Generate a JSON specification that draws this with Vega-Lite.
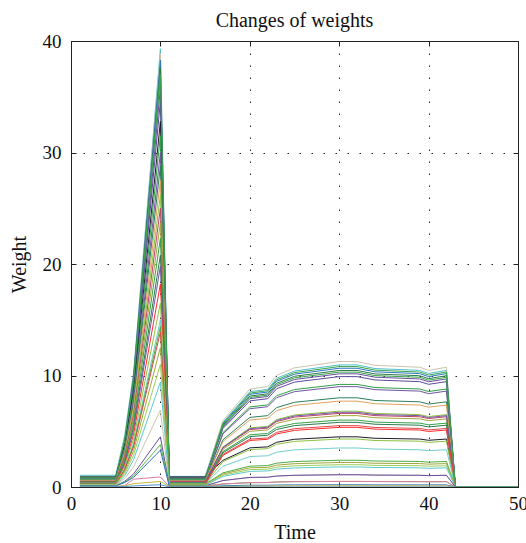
{
"$schema": "https://vega.github.io/schema/vega-lite/v6.json",
"width": 447, "height": 446,
"autosize": {"type": "none"},
"padding": {"left": 71, "top": 41, "right": 8, "bottom": 56},
"background": "white",
"title": {"text": "Changes of weights", "font": "Liberation Serif", "fontSize": 20, "fontWeight": "normal", "color": "#111", "baseline": "alphabetic", "offset": 12, "dy": 27},
"config": {
  "view": {"stroke": "#222", "strokeWidth": 1},
  "axis": {"domain": false, "tickSize": -5, "tickColor": "#222", "tickWidth": 1, "labelFont": "Liberation Serif", "labelFontSize": 19, "labelColor": "#111", "labelFlush": false, "labelOverlap": false, "labelBound": false, "titleFont": "Liberation Serif", "titleFontSize": 20, "titleFontWeight": "normal", "titleColor": "#111", "gridColor": "#222", "gridDash": [1.5, 10.5], "gridWidth": 1, "gridOpacity": 1}
},
"datasets": {"w": [
{"s":1,"t":1,"w":1.05},{"s":1,"t":5,"w":1.05},{"s":1,"t":6,"w":4.59},{"s":1,"t":7,"w":10.22},{"s":1,"t":10,"w":39.3},{"s":1,"t":11,"w":0.95},{"s":1,"t":15,"w":0.95},{"s":1,"t":17,"w":5.8},{"s":1,"t":20,"w":8.54},{"s":1,"t":22,"w":8.76},{"s":1,"t":23,"w":9.75},{"s":1,"t":25,"w":10.4},{"s":1,"t":30,"w":10.95},{"s":1,"t":32,"w":10.95},{"s":1,"t":34,"w":10.62},{"s":1,"t":39,"w":10.46},{"s":1,"t":40,"w":10.18},{"s":1,"t":42,"w":10.46},{"s":1,"t":43,"w":0},{"s":1,"t":50,"w":0},
{"s":2,"t":1,"w":0.8},{"s":2,"t":5,"w":0.8},{"s":2,"t":6,"w":4.3},{"s":2,"t":7,"w":10.11},{"s":2,"t":10,"w":38.9},{"s":2,"t":11,"w":0.85},{"s":2,"t":15,"w":0.85},{"s":2,"t":17,"w":5.96},{"s":2,"t":20,"w":8.78},{"s":2,"t":22,"w":9.0},{"s":2,"t":23,"w":10.01},{"s":2,"t":25,"w":10.69},{"s":2,"t":30,"w":11.25},{"s":2,"t":32,"w":11.25},{"s":2,"t":34,"w":10.91},{"s":2,"t":39,"w":10.74},{"s":2,"t":40,"w":10.46},{"s":2,"t":42,"w":10.74},{"s":2,"t":43,"w":0},{"s":2,"t":50,"w":0},
{"s":3,"t":1,"w":0.7},{"s":3,"t":5,"w":0.7},{"s":3,"t":6,"w":4.15},{"s":3,"t":7,"w":9.96},{"s":3,"t":10,"w":38.3},{"s":3,"t":11,"w":0.7},{"s":3,"t":15,"w":0.7},{"s":3,"t":17,"w":5.64},{"s":3,"t":20,"w":8.31},{"s":3,"t":22,"w":8.52},{"s":3,"t":23,"w":9.48},{"s":3,"t":25,"w":10.12},{"s":3,"t":30,"w":10.65},{"s":3,"t":32,"w":10.65},{"s":3,"t":34,"w":10.33},{"s":3,"t":39,"w":10.17},{"s":3,"t":40,"w":9.9},{"s":3,"t":42,"w":10.17},{"s":3,"t":43,"w":0},{"s":3,"t":50,"w":0},
{"s":4,"t":1,"w":0.6},{"s":4,"t":5,"w":0.6},{"s":4,"t":6,"w":3.98},{"s":4,"t":7,"w":9.78},{"s":4,"t":10,"w":37.6},{"s":4,"t":11,"w":0.75},{"s":4,"t":15,"w":0.75},{"s":4,"t":17,"w":5.54},{"s":4,"t":20,"w":8.15},{"s":4,"t":22,"w":8.36},{"s":4,"t":23,"w":9.3},{"s":4,"t":25,"w":9.93},{"s":4,"t":30,"w":10.45},{"s":4,"t":32,"w":10.45},{"s":4,"t":34,"w":10.14},{"s":4,"t":39,"w":9.98},{"s":4,"t":40,"w":9.72},{"s":4,"t":42,"w":9.98},{"s":4,"t":43,"w":0},{"s":4,"t":50,"w":0},
{"s":5,"t":1,"w":0.9},{"s":5,"t":5,"w":0.9},{"s":5,"t":6,"w":4.21},{"s":5,"t":7,"w":9.57},{"s":5,"t":10,"w":36.8},{"s":5,"t":11,"w":0.65},{"s":5,"t":15,"w":0.65},{"s":5,"t":17,"w":5.72},{"s":5,"t":20,"w":8.42},{"s":5,"t":22,"w":8.64},{"s":5,"t":23,"w":9.61},{"s":5,"t":25,"w":10.26},{"s":5,"t":30,"w":10.8},{"s":5,"t":32,"w":10.8},{"s":5,"t":34,"w":10.48},{"s":5,"t":39,"w":10.31},{"s":5,"t":40,"w":10.04},{"s":5,"t":42,"w":10.31},{"s":5,"t":43,"w":0},{"s":5,"t":50,"w":0},
{"s":6,"t":1,"w":0.5},{"s":6,"t":5,"w":0.5},{"s":6,"t":6,"w":3.72},{"s":6,"t":7,"w":9.31},{"s":6,"t":10,"w":35.8},{"s":6,"t":11,"w":0.6},{"s":6,"t":15,"w":0.6},{"s":6,"t":17,"w":5.38},{"s":6,"t":20,"w":7.92},{"s":6,"t":22,"w":8.12},{"s":6,"t":23,"w":9.03},{"s":6,"t":25,"w":9.64},{"s":6,"t":30,"w":10.15},{"s":6,"t":32,"w":10.15},{"s":6,"t":34,"w":9.85},{"s":6,"t":39,"w":9.69},{"s":6,"t":40,"w":9.44},{"s":6,"t":42,"w":9.69},{"s":6,"t":43,"w":0},{"s":6,"t":50,"w":0},
{"s":7,"t":1,"w":0.75},{"s":7,"t":5,"w":0.75},{"s":7,"t":6,"w":3.86},{"s":7,"t":7,"w":9.0},{"s":7,"t":10,"w":34.6},{"s":7,"t":11,"w":0.8},{"s":7,"t":15,"w":0.8},{"s":7,"t":17,"w":5.25},{"s":7,"t":20,"w":7.72},{"s":7,"t":22,"w":7.92},{"s":7,"t":23,"w":8.81},{"s":7,"t":25,"w":9.41},{"s":7,"t":30,"w":9.9},{"s":7,"t":32,"w":9.9},{"s":7,"t":34,"w":9.6},{"s":7,"t":39,"w":9.45},{"s":7,"t":40,"w":9.21},{"s":7,"t":42,"w":9.45},{"s":7,"t":43,"w":0},{"s":7,"t":50,"w":0},
{"s":8,"t":1,"w":0.9},{"s":8,"t":5,"w":0.9},{"s":8,"t":6,"w":3.85},{"s":8,"t":7,"w":8.53},{"s":8,"t":10,"w":32.8},{"s":8,"t":11,"w":0.9},{"s":8,"t":15,"w":0.9},{"s":8,"t":17,"w":2.39},{"s":8,"t":20,"w":3.51},{"s":8,"t":22,"w":3.6},{"s":8,"t":23,"w":4.01},{"s":8,"t":25,"w":4.28},{"s":8,"t":30,"w":4.5},{"s":8,"t":32,"w":4.5},{"s":8,"t":34,"w":4.37},{"s":8,"t":39,"w":4.3},{"s":8,"t":40,"w":4.19},{"s":8,"t":42,"w":4.3},{"s":8,"t":43,"w":0},{"s":8,"t":50,"w":0},
{"s":9,"t":1,"w":0.65},{"s":9,"t":5,"w":0.65},{"s":9,"t":6,"w":3.49},{"s":9,"t":7,"w":8.19},{"s":9,"t":10,"w":31.5},{"s":9,"t":11,"w":0.55},{"s":9,"t":15,"w":0.55},{"s":9,"t":17,"w":4.88},{"s":9,"t":20,"w":7.18},{"s":9,"t":22,"w":7.36},{"s":9,"t":23,"w":8.19},{"s":9,"t":25,"w":8.74},{"s":9,"t":30,"w":9.2},{"s":9,"t":32,"w":9.2},{"s":9,"t":34,"w":8.92},{"s":9,"t":39,"w":8.79},{"s":9,"t":40,"w":8.56},{"s":9,"t":42,"w":8.79},{"s":9,"t":43,"w":0},{"s":9,"t":50,"w":0},
{"s":10,"t":1,"w":0.55},{"s":10,"t":5,"w":0.55},{"s":10,"t":6,"w":3.25},{"s":10,"t":7,"w":7.8},{"s":10,"t":10,"w":30},{"s":10,"t":11,"w":0.5},{"s":10,"t":15,"w":0.5},{"s":10,"t":17,"w":4.77},{"s":10,"t":20,"w":7.02},{"s":10,"t":22,"w":7.2},{"s":10,"t":23,"w":8.01},{"s":10,"t":25,"w":8.55},{"s":10,"t":30,"w":9},{"s":10,"t":32,"w":9},{"s":10,"t":34,"w":8.73},{"s":10,"t":39,"w":8.6},{"s":10,"t":40,"w":8.37},{"s":10,"t":42,"w":8.6},{"s":10,"t":43,"w":0},{"s":10,"t":50,"w":0},
{"s":11,"t":1,"w":0.45},{"s":11,"t":5,"w":0.45},{"s":11,"t":6,"w":3.04},{"s":11,"t":7,"w":7.49},{"s":11,"t":10,"w":28.8},{"s":11,"t":11,"w":0.45},{"s":11,"t":15,"w":0.45},{"s":11,"t":17,"w":4.24},{"s":11,"t":20,"w":6.24},{"s":11,"t":22,"w":6.4},{"s":11,"t":23,"w":7.12},{"s":11,"t":25,"w":7.6},{"s":11,"t":30,"w":8},{"s":11,"t":32,"w":8},{"s":11,"t":34,"w":7.76},{"s":11,"t":39,"w":7.64},{"s":11,"t":40,"w":7.44},{"s":11,"t":42,"w":7.64},{"s":11,"t":43,"w":0},{"s":11,"t":50,"w":0},
{"s":12,"t":1,"w":0.6},{"s":12,"t":5,"w":0.6},{"s":12,"t":6,"w":3.08},{"s":12,"t":7,"w":7.15},{"s":12,"t":10,"w":27.5},{"s":12,"t":11,"w":0.55},{"s":12,"t":15,"w":0.55},{"s":12,"t":17,"w":4.08},{"s":12,"t":20,"w":6.01},{"s":12,"t":22,"w":6.16},{"s":12,"t":23,"w":6.85},{"s":12,"t":25,"w":7.32},{"s":12,"t":30,"w":7.7},{"s":12,"t":32,"w":7.7},{"s":12,"t":34,"w":7.47},{"s":12,"t":39,"w":7.35},{"s":12,"t":40,"w":7.16},{"s":12,"t":42,"w":7.35},{"s":12,"t":43,"w":0},{"s":12,"t":50,"w":0},
{"s":13,"t":1,"w":0.4},{"s":13,"t":5,"w":0.4},{"s":13,"t":6,"w":2.76},{"s":13,"t":7,"w":6.81},{"s":13,"t":10,"w":26.2},{"s":13,"t":11,"w":0.4},{"s":13,"t":15,"w":0.4},{"s":13,"t":17,"w":3.6},{"s":13,"t":20,"w":5.3},{"s":13,"t":22,"w":5.44},{"s":13,"t":23,"w":6.05},{"s":13,"t":25,"w":6.46},{"s":13,"t":30,"w":6.8},{"s":13,"t":32,"w":6.8},{"s":13,"t":34,"w":6.6},{"s":13,"t":39,"w":6.49},{"s":13,"t":40,"w":6.32},{"s":13,"t":42,"w":6.49},{"s":13,"t":43,"w":0},{"s":13,"t":50,"w":0},
{"s":14,"t":1,"w":0.5},{"s":14,"t":5,"w":0.5},{"s":14,"t":6,"w":2.75},{"s":14,"t":7,"w":6.5},{"s":14,"t":10,"w":25},{"s":14,"t":11,"w":0.5},{"s":14,"t":15,"w":0.5},{"s":14,"t":17,"w":3.5},{"s":14,"t":20,"w":5.15},{"s":14,"t":22,"w":5.28},{"s":14,"t":23,"w":5.87},{"s":14,"t":25,"w":6.27},{"s":14,"t":30,"w":6.6},{"s":14,"t":32,"w":6.6},{"s":14,"t":34,"w":6.4},{"s":14,"t":39,"w":6.3},{"s":14,"t":40,"w":6.14},{"s":14,"t":42,"w":6.3},{"s":14,"t":43,"w":0},{"s":14,"t":50,"w":0},
{"s":15,"t":1,"w":0.35},{"s":15,"t":5,"w":0.35},{"s":15,"t":6,"w":2.48},{"s":15,"t":7,"w":6.16},{"s":15,"t":10,"w":23.7},{"s":15,"t":11,"w":0.35},{"s":15,"t":15,"w":0.35},{"s":15,"t":17,"w":3.39},{"s":15,"t":20,"w":4.99},{"s":15,"t":22,"w":5.12},{"s":15,"t":23,"w":5.7},{"s":15,"t":25,"w":6.08},{"s":15,"t":30,"w":6.4},{"s":15,"t":32,"w":6.4},{"s":15,"t":34,"w":6.21},{"s":15,"t":39,"w":6.11},{"s":15,"t":40,"w":5.95},{"s":15,"t":42,"w":6.11},{"s":15,"t":43,"w":0},{"s":15,"t":50,"w":0},
{"s":16,"t":1,"w":0.45},{"s":16,"t":5,"w":0.45},{"s":16,"t":6,"w":2.46},{"s":16,"t":7,"w":5.8},{"s":16,"t":10,"w":22.3},{"s":16,"t":11,"w":0.4},{"s":16,"t":15,"w":0.4},{"s":16,"t":17,"w":3.18},{"s":16,"t":20,"w":4.68},{"s":16,"t":22,"w":4.8},{"s":16,"t":23,"w":5.34},{"s":16,"t":25,"w":5.7},{"s":16,"t":30,"w":6},{"s":16,"t":32,"w":6},{"s":16,"t":34,"w":5.82},{"s":16,"t":39,"w":5.73},{"s":16,"t":40,"w":5.58},{"s":16,"t":42,"w":5.73},{"s":16,"t":43,"w":0},{"s":16,"t":50,"w":0},
{"s":17,"t":1,"w":0.3},{"s":17,"t":5,"w":0.3},{"s":17,"t":6,"w":2.17},{"s":17,"t":7,"w":5.41},{"s":17,"t":10,"w":20.8},{"s":17,"t":11,"w":0.3},{"s":17,"t":15,"w":0.3},{"s":17,"t":17,"w":3.07},{"s":17,"t":20,"w":4.52},{"s":17,"t":22,"w":4.64},{"s":17,"t":23,"w":5.16},{"s":17,"t":25,"w":5.51},{"s":17,"t":30,"w":5.8},{"s":17,"t":32,"w":5.8},{"s":17,"t":34,"w":5.63},{"s":17,"t":39,"w":5.54},{"s":17,"t":40,"w":5.39},{"s":17,"t":42,"w":5.54},{"s":17,"t":43,"w":0},{"s":17,"t":50,"w":0},
{"s":18,"t":1,"w":0.4},{"s":18,"t":5,"w":0.4},{"s":18,"t":6,"w":2.18},{"s":18,"t":7,"w":5.15},{"s":18,"t":10,"w":19.8},{"s":18,"t":11,"w":0.35},{"s":18,"t":15,"w":0.35},{"s":18,"t":17,"w":3.55},{"s":18,"t":20,"w":5.23},{"s":18,"t":22,"w":5.36},{"s":18,"t":23,"w":5.96},{"s":18,"t":25,"w":6.37},{"s":18,"t":30,"w":6.7},{"s":18,"t":32,"w":6.7},{"s":18,"t":34,"w":6.5},{"s":18,"t":39,"w":6.4},{"s":18,"t":40,"w":6.23},{"s":18,"t":42,"w":6.4},{"s":18,"t":43,"w":0},{"s":18,"t":50,"w":0},
{"s":19,"t":1,"w":0.3},{"s":19,"t":5,"w":0.3},{"s":19,"t":6,"w":1.94},{"s":19,"t":7,"w":4.73},{"s":19,"t":10,"w":18.2},{"s":19,"t":11,"w":0.3},{"s":19,"t":15,"w":0.3},{"s":19,"t":17,"w":2.84},{"s":19,"t":20,"w":4.17},{"s":19,"t":22,"w":4.28},{"s":19,"t":23,"w":4.76},{"s":19,"t":25,"w":5.08},{"s":19,"t":30,"w":5.35},{"s":19,"t":32,"w":5.35},{"s":19,"t":34,"w":5.19},{"s":19,"t":39,"w":5.11},{"s":19,"t":40,"w":4.98},{"s":19,"t":42,"w":5.11},{"s":19,"t":43,"w":0},{"s":19,"t":50,"w":0},
{"s":20,"t":1,"w":0.35},{"s":20,"t":5,"w":0.35},{"s":20,"t":6,"w":1.84},{"s":20,"t":7,"w":4.29},{"s":20,"t":10,"w":16.5},{"s":20,"t":11,"w":0.3},{"s":20,"t":15,"w":0.3},{"s":20,"t":17,"w":2.28},{"s":20,"t":20,"w":3.35},{"s":20,"t":22,"w":3.44},{"s":20,"t":23,"w":3.83},{"s":20,"t":25,"w":4.09},{"s":20,"t":30,"w":4.3},{"s":20,"t":32,"w":4.3},{"s":20,"t":34,"w":4.17},{"s":20,"t":39,"w":4.11},{"s":20,"t":40,"w":4.0},{"s":20,"t":42,"w":4.11},{"s":20,"t":43,"w":0},{"s":20,"t":50,"w":0},
{"s":21,"t":1,"w":0.25},{"s":21,"t":5,"w":0.25},{"s":21,"t":6,"w":1.6},{"s":21,"t":7,"w":3.9},{"s":21,"t":10,"w":15},{"s":21,"t":11,"w":0.25},{"s":21,"t":15,"w":0.25},{"s":21,"t":17,"w":1.86},{"s":21,"t":20,"w":2.73},{"s":21,"t":22,"w":2.8},{"s":21,"t":23,"w":3.12},{"s":21,"t":25,"w":3.33},{"s":21,"t":30,"w":3.5},{"s":21,"t":32,"w":3.5},{"s":21,"t":34,"w":3.4},{"s":21,"t":39,"w":3.34},{"s":21,"t":40,"w":3.26},{"s":21,"t":42,"w":3.34},{"s":21,"t":43,"w":0},{"s":21,"t":50,"w":0},
{"s":22,"t":1,"w":0.3},{"s":22,"t":5,"w":0.3},{"s":22,"t":6,"w":1.6},{"s":22,"t":7,"w":3.74},{"s":22,"t":10,"w":14.4},{"s":22,"t":11,"w":0.25},{"s":22,"t":15,"w":0.25},{"s":22,"t":17,"w":1.27},{"s":22,"t":20,"w":1.87},{"s":22,"t":22,"w":1.92},{"s":22,"t":23,"w":2.14},{"s":22,"t":25,"w":2.28},{"s":22,"t":30,"w":2.4},{"s":22,"t":32,"w":2.4},{"s":22,"t":34,"w":2.33},{"s":22,"t":39,"w":2.29},{"s":22,"t":40,"w":2.23},{"s":22,"t":42,"w":2.29},{"s":22,"t":43,"w":0},{"s":22,"t":50,"w":0},
{"s":23,"t":1,"w":0.25},{"s":23,"t":5,"w":0.25},{"s":23,"t":6,"w":1.5},{"s":23,"t":7,"w":3.61},{"s":23,"t":10,"w":13.9},{"s":23,"t":11,"w":0.2},{"s":23,"t":15,"w":0.2},{"s":23,"t":17,"w":2.92},{"s":23,"t":20,"w":4.29},{"s":23,"t":22,"w":4.4},{"s":23,"t":23,"w":4.9},{"s":23,"t":25,"w":5.23},{"s":23,"t":30,"w":5.5},{"s":23,"t":32,"w":5.5},{"s":23,"t":34,"w":5.34},{"s":23,"t":39,"w":5.25},{"s":23,"t":40,"w":5.12},{"s":23,"t":42,"w":5.25},{"s":23,"t":43,"w":0},{"s":23,"t":50,"w":0},
{"s":24,"t":1,"w":0.2},{"s":24,"t":5,"w":0.2},{"s":24,"t":6,"w":1.33},{"s":24,"t":7,"w":3.25},{"s":24,"t":10,"w":12.5},{"s":24,"t":11,"w":0.2},{"s":24,"t":15,"w":0.2},{"s":24,"t":17,"w":1.17},{"s":24,"t":20,"w":1.72},{"s":24,"t":22,"w":1.76},{"s":24,"t":23,"w":1.96},{"s":24,"t":25,"w":2.09},{"s":24,"t":30,"w":2.2},{"s":24,"t":32,"w":2.2},{"s":24,"t":34,"w":2.13},{"s":24,"t":39,"w":2.1},{"s":24,"t":40,"w":2.05},{"s":24,"t":42,"w":2.1},{"s":24,"t":43,"w":0},{"s":24,"t":50,"w":0},
{"s":25,"t":1,"w":0.2},{"s":25,"t":5,"w":0.2},{"s":25,"t":6,"w":1.19},{"s":25,"t":7,"w":2.86},{"s":25,"t":10,"w":11},{"s":25,"t":11,"w":0.15},{"s":25,"t":15,"w":0.15},{"s":25,"t":17,"w":1.06},{"s":25,"t":20,"w":1.56},{"s":25,"t":22,"w":1.6},{"s":25,"t":23,"w":1.78},{"s":25,"t":25,"w":1.9},{"s":25,"t":30,"w":2},{"s":25,"t":32,"w":2},{"s":25,"t":34,"w":1.94},{"s":25,"t":39,"w":1.91},{"s":25,"t":40,"w":1.86},{"s":25,"t":42,"w":1.91},{"s":25,"t":43,"w":0},{"s":25,"t":50,"w":0},
{"s":26,"t":1,"w":0.15},{"s":26,"t":5,"w":0.15},{"s":26,"t":6,"w":1.0},{"s":26,"t":7,"w":2.44},{"s":26,"t":10,"w":9.4},{"s":26,"t":11,"w":0.15},{"s":26,"t":15,"w":0.15},{"s":26,"t":17,"w":0.95},{"s":26,"t":20,"w":1.4},{"s":26,"t":22,"w":1.44},{"s":26,"t":23,"w":1.6},{"s":26,"t":25,"w":1.71},{"s":26,"t":30,"w":1.8},{"s":26,"t":32,"w":1.8},{"s":26,"t":34,"w":1.75},{"s":26,"t":39,"w":1.72},{"s":26,"t":40,"w":1.67},{"s":26,"t":42,"w":1.72},{"s":26,"t":43,"w":0},{"s":26,"t":50,"w":0},
{"s":27,"t":1,"w":0.15},{"s":27,"t":5,"w":0.15},{"s":27,"t":6,"w":0.77},{"s":27,"t":7,"w":1.79},{"s":27,"t":10,"w":6.9},{"s":27,"t":11,"w":0.1},{"s":27,"t":15,"w":0.1},{"s":27,"t":17,"w":0.58},{"s":27,"t":20,"w":0.86},{"s":27,"t":22,"w":0.88},{"s":27,"t":23,"w":0.98},{"s":27,"t":25,"w":1.05},{"s":27,"t":30,"w":1.1},{"s":27,"t":32,"w":1.1},{"s":27,"t":34,"w":1.07},{"s":27,"t":39,"w":1.05},{"s":27,"t":40,"w":1.02},{"s":27,"t":42,"w":1.05},{"s":27,"t":43,"w":0},{"s":27,"t":50,"w":0},
{"s":28,"t":1,"w":0.1},{"s":28,"t":5,"w":0.1},{"s":28,"t":6,"w":0.51},{"s":28,"t":7,"w":1.17},{"s":28,"t":10,"w":4.5},{"s":28,"t":11,"w":0.1},{"s":28,"t":15,"w":0.1},{"s":28,"t":17,"w":0.58},{"s":28,"t":20,"w":0.86},{"s":28,"t":22,"w":0.88},{"s":28,"t":23,"w":0.98},{"s":28,"t":25,"w":1.05},{"s":28,"t":30,"w":1.1},{"s":28,"t":32,"w":1.1},{"s":28,"t":34,"w":1.07},{"s":28,"t":39,"w":1.05},{"s":28,"t":40,"w":1.02},{"s":28,"t":42,"w":1.05},{"s":28,"t":43,"w":0},{"s":28,"t":50,"w":0},
{"s":29,"t":1,"w":0.1},{"s":29,"t":5,"w":0.1},{"s":29,"t":6,"w":0.44},{"s":29,"t":7,"w":0.99},{"s":29,"t":10,"w":3.8},{"s":29,"t":11,"w":0.1},{"s":29,"t":15,"w":0.1},{"s":29,"t":17,"w":0.27},{"s":29,"t":20,"w":0.39},{"s":29,"t":22,"w":0.4},{"s":29,"t":23,"w":0.45},{"s":29,"t":25,"w":0.48},{"s":29,"t":30,"w":0.5},{"s":29,"t":32,"w":0.5},{"s":29,"t":34,"w":0.49},{"s":29,"t":39,"w":0.48},{"s":29,"t":40,"w":0.47},{"s":29,"t":42,"w":0.48},{"s":29,"t":43,"w":0},{"s":29,"t":50,"w":0},
{"s":30,"t":1,"w":0.1},{"s":30,"t":5,"w":0.1},{"s":30,"t":6,"w":0.4},{"s":30,"t":7,"w":0.86},{"s":30,"t":10,"w":3.3},{"s":30,"t":11,"w":0.05},{"s":30,"t":15,"w":0.05},{"s":30,"t":17,"w":0.11},{"s":30,"t":20,"w":0.16},{"s":30,"t":22,"w":0.16},{"s":30,"t":23,"w":0.18},{"s":30,"t":25,"w":0.19},{"s":30,"t":30,"w":0.2},{"s":30,"t":32,"w":0.2},{"s":30,"t":34,"w":0.19},{"s":30,"t":39,"w":0.19},{"s":30,"t":40,"w":0.19},{"s":30,"t":42,"w":0.19},{"s":30,"t":43,"w":0},{"s":30,"t":50,"w":0},
{"s":31,"t":1,"w":0.05},{"s":31,"t":5,"w":0.05},{"s":31,"t":6,"w":0.13},{"s":31,"t":7,"w":0.7},{"s":31,"t":10,"w":0.9},{"s":31,"t":11,"w":0.05},{"s":31,"t":15,"w":0.05},{"s":31,"t":17,"w":0.27},{"s":31,"t":20,"w":0.39},{"s":31,"t":22,"w":0.4},{"s":31,"t":23,"w":0.45},{"s":31,"t":25,"w":0.48},{"s":31,"t":30,"w":0.5},{"s":31,"t":32,"w":0.5},{"s":31,"t":34,"w":0.49},{"s":31,"t":39,"w":0.48},{"s":31,"t":40,"w":0.47},{"s":31,"t":42,"w":0.48},{"s":31,"t":43,"w":0},{"s":31,"t":50,"w":0},
{"s":32,"t":1,"w":0.05},{"s":32,"t":5,"w":0.05},{"s":32,"t":6,"w":0.1},{"s":32,"t":7,"w":0.3},{"s":32,"t":10,"w":0.5},{"s":32,"t":11,"w":0.05},{"s":32,"t":15,"w":0.05},{"s":32,"t":17,"w":0.05},{"s":32,"t":20,"w":0.08},{"s":32,"t":22,"w":0.08},{"s":32,"t":23,"w":0.09},{"s":32,"t":25,"w":0.1},{"s":32,"t":30,"w":0.1},{"s":32,"t":32,"w":0.1},{"s":32,"t":34,"w":0.1},{"s":32,"t":39,"w":0.1},{"s":32,"t":40,"w":0.09},{"s":32,"t":42,"w":0.1},{"s":32,"t":43,"w":0},{"s":32,"t":50,"w":0},
{"s":33,"t":1,"w":0.02},{"s":33,"t":5,"w":0.02},{"s":33,"t":6,"w":0.04},{"s":33,"t":7,"w":0.1},{"s":33,"t":10,"w":0.2},{"s":33,"t":11,"w":0.02},{"s":33,"t":15,"w":0.02},{"s":33,"t":17,"w":0},{"s":33,"t":20,"w":0},{"s":33,"t":22,"w":0},{"s":33,"t":23,"w":0},{"s":33,"t":25,"w":0},{"s":33,"t":30,"w":0},{"s":33,"t":32,"w":0},{"s":33,"t":34,"w":0},{"s":33,"t":39,"w":0},{"s":33,"t":40,"w":0},{"s":33,"t":42,"w":0},{"s":33,"t":43,"w":0},{"s":33,"t":50,"w":0},
{"s":34,"t":1,"w":0.8},{"s":34,"t":5,"w":0.8},{"s":34,"t":6,"w":4.13},{"s":34,"t":7,"w":9.62},{"s":34,"t":10,"w":37},{"s":34,"t":11,"w":0.7},{"s":34,"t":15,"w":0.7},{"s":34,"t":17,"w":5.46},{"s":34,"t":20,"w":8.03},{"s":34,"t":22,"w":8.24},{"s":34,"t":23,"w":9.17},{"s":34,"t":25,"w":9.79},{"s":34,"t":30,"w":10.3},{"s":34,"t":32,"w":10.3},{"s":34,"t":34,"w":9.99},{"s":34,"t":39,"w":9.84},{"s":34,"t":40,"w":9.58},{"s":34,"t":42,"w":9.84},{"s":34,"t":43,"w":0},{"s":34,"t":50,"w":0}
]},
"data": {"name": "w"},
"layer": [
  {
    "mark": {"type": "line", "strokeWidth": 1, "clip": true},
    "encoding": {
      "x": {"field": "t", "type": "quantitative", "scale": {"domain": [0, 50], "nice": false, "zero": false},
            "axis": {"title": "Time", "values": [0, 10, 20, 30, 40, 50], "labelPadding": 12, "titlePadding": 9}},
      "y": {"field": "w", "type": "quantitative", "scale": {"domain": [0, 40], "nice": false},
            "axis": {"title": "Weight", "values": [0, 10, 20, 30, 40], "labelPadding": 15, "titlePadding": 13}},
      "color": {"field": "s", "type": "nominal", "legend": null,
        "scale": {"domain": [1,2,3,4,5,6,7,8,9,10,11,12,13,14,15,16,17,18,19,20,21,22,23,24,25,26,27,28,29,30,31,32,33,34],
                  "range": ["#4fbfca","#cbc4ad","#2f76c2","#2d7a4c","#3aa84c","#6a4e9e","#5c4a9a","#1c1c28","#2ea043","#6f55a5","#2c7f5c","#e2a25c","#8cc540","#bf4268","#a3a73b","#33a447","#2d7a4c","#7758a8","#ff2b2b","#8cc540","#72cece","#4cae45","#e04848","#a3a73b","#9ccf5a","#5fc8cf","#cbc4ad","#6a4e9e","#5ab84a","#2f76c2","#e07aa0","#c8b840","#4a90d0","#3aa64a"]}}
    }
  },
  {
    "mark": {"type": "point", "opacity": 0},
    "encoding": {
      "x": {"field": "t", "type": "quantitative", "axis": {"orient": "top", "title": null, "labels": false, "grid": false, "values": [0, 10, 20, 30, 40, 50]}},
      "y": {"field": "w", "type": "quantitative", "axis": {"orient": "right", "title": null, "labels": false, "grid": false, "values": [0, 10, 20, 30, 40]}}
    }
  }
],
"resolve": {"axis": {"x": "independent", "y": "independent"}}
}
